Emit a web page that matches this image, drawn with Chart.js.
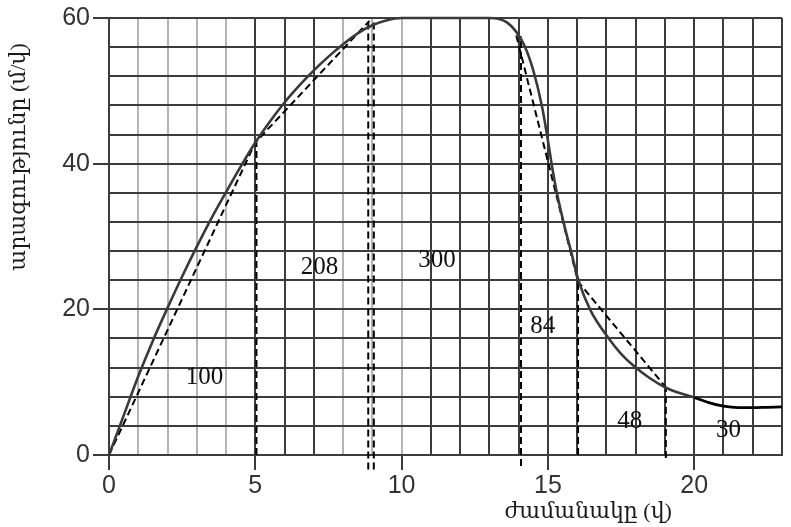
<!DOCTYPE html>
<html>
<head>
<meta charset="utf-8">
<script src="https://cdn.jsdelivr.net/npm/chart.js@4.4.1/dist/chart.umd.min.js"></script>
<style>
  html, body { margin: 0; padding: 0; background: #ffffff; }
  #wrap { width: 791px; height: 527px; }
</style>
</head>
<body>
<div id="wrap"><canvas id="c" width="791" height="527"></canvas></div>
<script>
// ---- data ----
const timeRise = [0,0.5,1,1.5,2,2.5,3,3.5,4,4.5,5,5.5,6,6.5,7,7.5,8,8.5,9,9.5,10,11,12,13,13.3,13.6,13.9,14.2,14.5,14.8,15,15.15,15.3,15.55,15.8,16.05,16.45,17.1,17.5,18,18.5,19,19.5,20];
const speedRise = [0,5.4,10.8,15.7,20.2,24.5,28.6,32.5,36.1,39.6,42.9,45.8,48.4,50.7,52.8,54.7,56.4,57.9,59.0,59.7,60,60,60,60,59.9,59.4,58.2,56.2,52.8,47.8,43.2,39.4,36.1,31.7,27.8,23.9,19.9,15.9,13.9,12,10.5,9.3,8.5,7.9];
const timeTail = [20,20.5,21,21.5,22,22.5,23];
const speedTail = [7.9,7.2,6.7,6.5,6.5,6.55,6.6];

const chordUpX = [0,5,8.9];
const chordUpY = [0,42.9,59.6];
const chordDownX = [13.92,16.03,19.03];
const chordDownY = [57.6,23.8,9.3];

const dropX = [5.04,8.86,9.05,14.08,16.03,19.03];
const dropTop = [42.9,59.8,59.8,57.5,23.8,9.3];
const dropBottom = [0,-2,-2,-1.5,0,-0.4];

const areaValues = ['100','208','300','84','48','30'];
const areaX = [3.26,7.19,11.21,14.82,17.8,21.17];
const areaY = [10.7,25.8,26.7,17.7,4.6,3.4];

const xTickLabels = [0,5,10,15,20];
const yTickLabels = [0,20,40,60];
const lightGridX = [1,2,3,4,8,9,10];

const xTitle = 'ժամանակը (վ)';
const yTitle = 'արագությունը (մ/վ)';

// ---- build datasets ----
const pts = (xs, ys) => xs.map((v, i) => ({ x: v, y: ys[i] }));
const dashStyle = { borderColor: '#000', borderWidth: 2, borderDash: [7, 4], pointRadius: 0, tension: 0, clip: false, fill: false };

const datasets = [
  { data: pts(timeRise, speedRise), borderColor: '#3a3a3a', borderWidth: 2.6, pointRadius: 0, cubicInterpolationMode: 'monotone', clip: false, fill: false },
  { data: pts(timeTail, speedTail), borderColor: '#000000', borderWidth: 2.8, pointRadius: 0, cubicInterpolationMode: 'monotone', clip: false, fill: false },
  Object.assign({ data: pts(chordUpX, chordUpY) }, dashStyle),
  Object.assign({ data: pts(chordDownX, chordDownY) }, dashStyle)
];
dropX.forEach((xv, i) => {
  datasets.push(Object.assign({ data: [{ x: xv, y: dropBottom[i] }, { x: xv, y: dropTop[i] }] }, dashStyle));
});

const overlay = {
  id: 'overlay',
  afterDatasetsDraw(chart) {
    const { ctx, scales: { x, y }, chartArea } = chart;
    ctx.save();
    ctx.fillStyle = '#111';
    ctx.textAlign = 'center';
    ctx.textBaseline = 'middle';
    ctx.font = '25px "Liberation Serif", "DejaVu Serif", serif';
    areaValues.forEach((t, i) => {
      ctx.fillText(t, x.getPixelForValue(areaX[i]), y.getPixelForValue(areaY[i]));
    });
    ctx.font = '22px "Liberation Serif", "DejaVu Serif", serif';
    ctx.fillStyle = '#1a1a1a';
    ctx.fillText(xTitle, chartArea.left + chartArea.width * 0.712, 512);
    ctx.translate(19, chartArea.top + chartArea.height * 0.318);
    ctx.rotate(-Math.PI / 2);
    ctx.fillText(yTitle, 0, 0);
    ctx.restore();
  }
};

new Chart(document.getElementById('c'), {
  type: 'line',
  data: { datasets },
  plugins: [overlay],
  options: {
    responsive: false,
    animation: false,
    parsing: true,
    layout: { padding: { top: 17, right: 9, left: 0, bottom: 0 } },
    plugins: { legend: { display: false }, tooltip: { enabled: false } },
    scales: {
      x: {
        type: 'linear', min: 0, max: 23,
        afterFit: (s) => { s.height = 72; },
        ticks: {
          stepSize: 1, autoSkip: false, maxRotation: 0, padding: 1,
          color: '#333', font: { family: '"Liberation Sans", Arial, sans-serif', size: 25 },
          callback: (v) => xTickLabels.includes(v) ? String(v) : ''
        },
        grid: {
          lineWidth: 2, tickLength: 15,
          color: (c) => lightGridX.includes(c.tick.value) ? '#b4b4b4' : '#3c3c3c',
          tickColor: (c) => xTickLabels.includes(c.tick.value) ? '#3c3c3c' : 'rgba(0,0,0,0)'
        },
        border: { display: true, color: '#3c3c3c', width: 2 }
      },
      y: {
        type: 'linear', min: 0, max: 60,
        afterFit: (s) => { s.width = 109; },
        ticks: {
          stepSize: 4, autoSkip: false, padding: 3,
          color: '#333', font: { family: '"Liberation Sans", Arial, sans-serif', size: 25 },
          callback: (v) => yTickLabels.includes(v) ? String(v) : ''
        },
        grid: {
          lineWidth: 2, tickLength: 16,
          color: '#3c3c3c',
          tickColor: (c) => yTickLabels.includes(c.tick.value) ? '#3c3c3c' : 'rgba(0,0,0,0)'
        },
        border: { display: true, color: '#3c3c3c', width: 2 }
      }
    }
  }
});
</script>
</body>
</html>
